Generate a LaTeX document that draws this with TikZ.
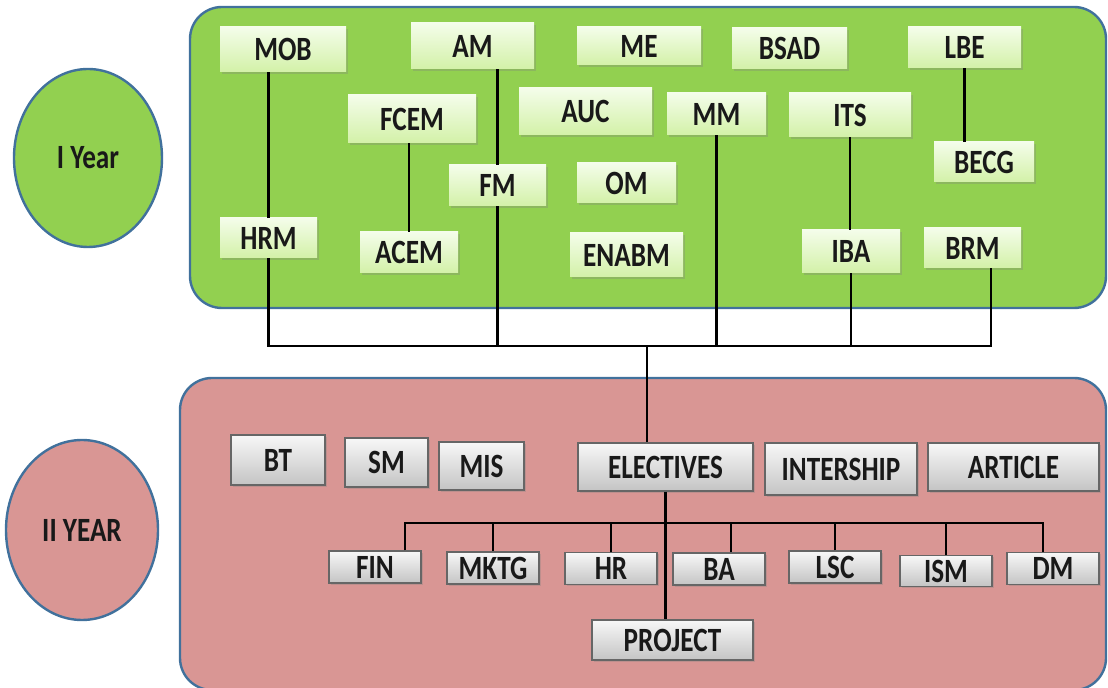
\documentclass[tikz,border=0pt]{standalone}
\usepackage{fontspec}
\setmainfont[FakeStretch=0.8]{Carlito}
\usetikzlibrary{shadows,shapes.geometric}

\definecolor{panelgreen}{HTML}{92D050}
\definecolor{panelred}{HTML}{D99694}
\definecolor{panelline}{HTML}{41719C}
\definecolor{gtop}{HTML}{F4FDEA}
\definecolor{gbot}{HTML}{D3F1A8}
\definecolor{rbot}{HTML}{C4C4C4}

\tikzset{
	course/.style={inner sep=0pt, font=\bfseries\fontsize{17}{18}\selectfont, text=black!90,
		drop shadow={opacity=0.3, shadow xshift=1pt, shadow yshift=-1pt}},
	gbox/.style 2 args={course, top color=gtop, bottom color=gbot,
		minimum width=#1*0.5pt, minimum height=#2*0.5pt},
	rbox/.style 2 args={course, draw=black!60, line width=0.6pt, top color=white!97!black, bottom color=rbot,
		minimum width=#1*0.5pt, minimum height=#2*0.5pt},
	panel/.style={draw=panelline, line width=1.2pt, rounded corners=16pt},
	yearnode/.style={ellipse, draw=panelline, line width=1.2pt, inner sep=0pt,
		font=\bfseries\fontsize{17}{18}\selectfont, text=black!90},
	link/.style={line width=1.3pt}
}

\begin{document}
\begin{tikzpicture}[x=0.5pt, y=-0.5pt]
	\useasboundingbox (0,0) rectangle (1108,688);

	\draw [panel, fill=panelgreen] (190,7) rectangle (1106,308);
	\draw [panel, fill=panelred] (180,378) rectangle (1106,690);

	\draw (88,158) node[yearnode, fill=panelgreen, minimum width=74pt, minimum height=89pt] (y1) {I Year};
	\draw (82,530) node[yearnode, fill=panelred, minimum width=76pt, minimum height=90pt] (y2) {II YEAR};

	\draw (283,49.5) node[gbox={126}{45}] (mob) {MOB};
	\draw (472.5,46) node[gbox={123}{46}] (am) {AM};
	\draw (639,46) node[gbox={124}{38}] (me) {ME};
	\draw (789.5,48.5) node[gbox={115}{41}] (bsad) {BSAD};
	\draw (964.5,47.5) node[gbox={113}{41}] (lbe) {LBE};
	\draw (412,119) node[gbox={128}{48}] (fcem) {FCEM};
	\draw (585.5,111.5) node[gbox={133}{47}] (auc) {AUC};
	\draw (716.5,114) node[gbox={99}{42}] (mm) {MM};
	\draw (850,115) node[gbox={122}{44}] (its) {ITS};
	\draw (984,162) node[gbox={100}{40}] (becg) {BECG};
	\draw (497.5,185.5) node[gbox={97}{41}] (fm) {FM};
	\draw (626.5,183) node[gbox={99}{40}] (om) {OM};
	\draw (268.5,238) node[gbox={97}{40}] (hrm) {HRM};
	\draw (409,252.5) node[gbox={98}{41}] (acem) {ACEM};
	\draw (626.5,255) node[gbox={113}{44}] (enabm) {ENABM};
	\draw (851,251.5) node[gbox={98}{43}] (iba) {IBA};
	\draw (972.5,248) node[gbox={97}{40}] (brm) {BRM};

	\draw [link] (hrm.north) -- (hrm.north |- mob.south);
	\draw [link] (fm.north) -- (fm.north |- am.south);
	\draw [link] (acem.north) -- (acem.north |- fcem.south);
	\draw [link] (lbe.south) -- (lbe.south |- becg.north);
	\draw [link] (its.south) -- (its.south |- iba.north);

	\coordinate (busl) at (268.5,346);
	\coordinate (busr) at (991,346);
	\coordinate (busc) at (647,346);
	\draw [link] (hrm.south) -- (busl) -- (busr) -- (busr |- brm.south);
	\draw [link] (fm.south) -- (fm.south |- busl);
	\draw [link] (mm.south) -- (mm.south |- busl);
	\draw [link] (iba.south) -- (iba.south |- busl);

	\draw (278,460) node[rbox={94}{50}] (bt) {BT};
	\draw (386.5,462.5) node[rbox={83}{49}] (sm) {SM};
	\draw (481.5,466) node[rbox={85}{48}] (mis) {MIS};
	\draw (665.5,467) node[rbox={175}{48}] (electives) {ELECTIVES};
	\draw (841,469) node[rbox={152}{52}] (intership) {INTERSHIP};
	\draw (1013.5,467) node[rbox={171}{48}] (article) {ARTICLE};
	\draw (375,567) node[rbox={92}{32}] (fin) {FIN};
	\draw (493,568) node[rbox={92}{32}] (mktg) {MKTG};
	\draw (611,568.5) node[rbox={92}{32}] (hr) {HR};
	\draw (719,569) node[rbox={92}{32}] (ba) {BA};
	\draw (835,567) node[rbox={92}{32}] (lsc) {LSC};
	\draw (946,571) node[rbox={92}{31}] (ism) {ISM};
	\draw (1053,568.5) node[rbox={92}{32}] (dm) {DM};
	\draw (672.5,640) node[rbox={161}{40}] (project) {PROJECT};

	\draw [link] (busc) -- (busc |- electives.north);
	\draw [link] (electives.south) -- (electives.south |- project.north);

	\coordinate (ebusl) at (405,523);
	\coordinate (ebusr) at (1043,523);
	\coordinate (ebusba) at (731,523);
	\draw [link] (ebusl |- fin.north) -- (ebusl) -- (ebusr) -- (ebusr |- dm.north);
	\draw [link] (mktg.north) -- (mktg.north |- ebusl);
	\draw [link] (hr.north) -- (hr.north |- ebusl);
	\draw [link] (ebusba) -- (ebusba |- ba.north);
	\draw [link] (lsc.north) -- (lsc.north |- ebusl);
	\draw [link] (ism.north) -- (ism.north |- ebusl);
\end{tikzpicture}
\end{document}
